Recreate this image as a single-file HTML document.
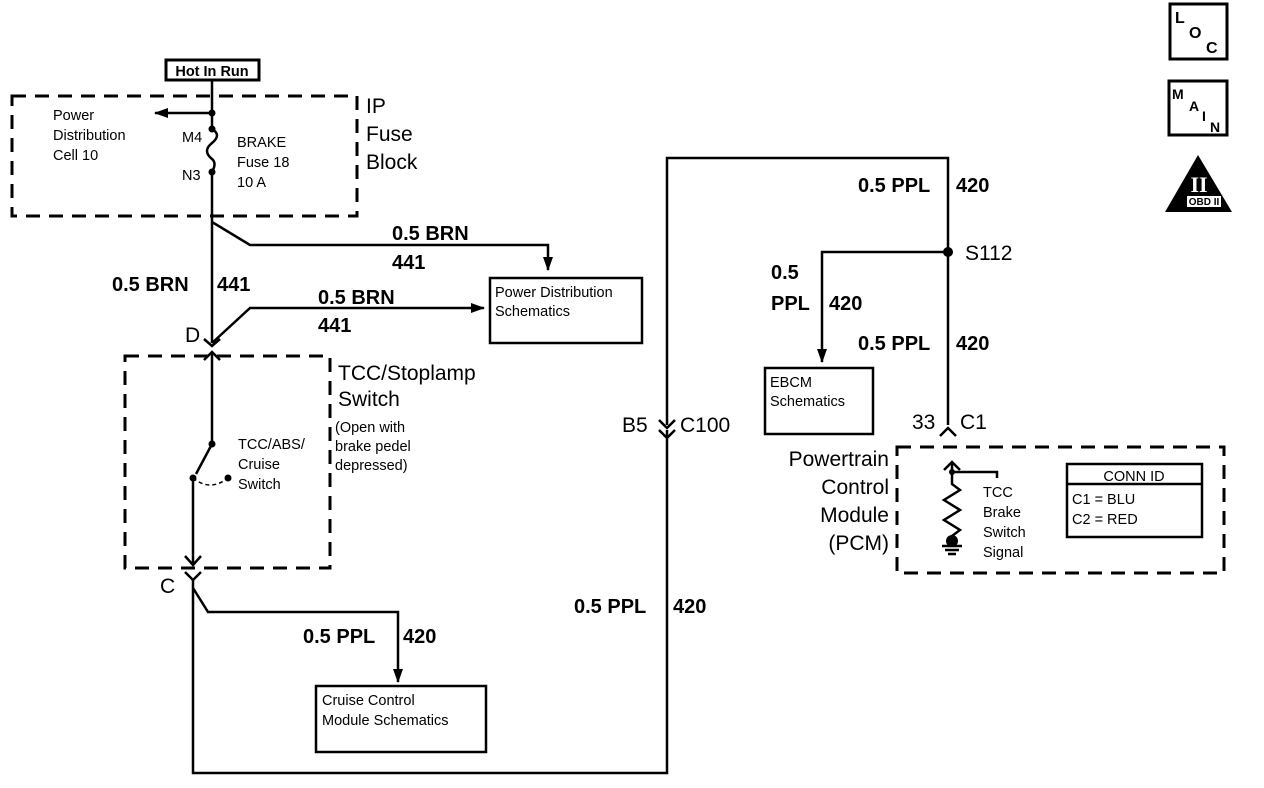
<!DOCTYPE html>
<html><head><style>
html,body{margin:0;padding:0;background:#fff;}
svg{display:block;font-family:"Liberation Sans",Arial,sans-serif;}
.b{font-size:20px;font-weight:bold;}
.m{font-size:21px;}
.s{font-size:14.5px;}
</style></head><body>
<svg width="1264" height="788" viewBox="0 0 1264 788" xmlns="http://www.w3.org/2000/svg">
<defs>
<marker id="ah" markerWidth="14" markerHeight="12" refX="13" refY="6" orient="auto" markerUnits="userSpaceOnUse"><path d="M0,1 L14,6 L0,11 Z" fill="#000"/></marker>
</defs>
<g fill="none" stroke="#000" stroke-width="2.5">
<rect x="12" y="96" width="345" height="120" stroke-dasharray="14,9" stroke-width="3"/>
<rect x="125" y="356" width="205" height="212" stroke-dasharray="14,9" stroke-width="3"/>
<rect x="897" y="447" width="327" height="126" stroke-dasharray="14,9" stroke-width="3"/>
<rect x="166" y="60" width="93" height="20" stroke-width="3"/>
<path d="M212,80 V129"/>
<path d="M212,129 q10,6 0,14 q-10,8 0,16 q5,4 0,13"/>
<path d="M212,172 V343"/>
<path d="M212,113 H155" marker-end="url(#ah)"/>
<path d="M212,222 L250,245 H548 V270" marker-end="url(#ah)"/>
<path d="M212,343 L250,308 H484" marker-end="url(#ah)"/>
<path d="M204,339 L212,346 L220,339"/>
<path d="M204,360 L212,352 L220,360"/>
<path d="M212,352 V444"/>
<path d="M212,444 L196,474"/>
<path d="M193,478 Q210,492 228,478" stroke-dasharray="4,3" stroke-width="1.5"/>
<path d="M193,478 V565"/>
<path d="M185,556 L193,565 L201,556"/>
<path d="M185,572 L193,580 L201,572"/>
<path d="M193,580 V773 H667 V430"/>
<path d="M193,588 L208,612 H398 V682" marker-end="url(#ah)"/>
<path d="M659,420 L667,428 L675,420"/>
<path d="M659,430 L667,438 L675,430"/>
<path d="M667,425 V158 H948 V425"/>
<path d="M948,252 H822 V362" marker-end="url(#ah)"/>
<path d="M940,436 L948,428 L956,436"/>
<path d="M952,478 V462"/>
<path d="M944,470 L952,462 L960,470"/>
<path d="M952,472 H997 V478"/>
<path d="M952,478 V484 l8,6 l-16,10 l16,10 l-16,10 l16,10 l-8,6 V540"/>
<path d="M942,546 H962 M945,550 H959 M948,554 H956"/>
<rect x="490" y="278" width="152" height="65"/>
<rect x="765" y="368" width="108" height="66"/>
<rect x="316" y="686" width="170" height="66"/>
<rect x="1067" y="464" width="135" height="73"/>
<path d="M1067,484 H1202"/>
<rect x="1170" y="4" width="57" height="55" stroke-width="3"/>
<rect x="1169" y="81" width="58" height="54" stroke-width="3"/>
</g>
<g fill="#000">
<circle cx="212" cy="113" r="3.5"/><circle cx="212" cy="129" r="3.5"/><circle cx="212" cy="172" r="3.5"/>
<circle cx="212" cy="444" r="3.5"/><circle cx="193" cy="478" r="3.5"/><circle cx="228" cy="478" r="3.5"/>
<circle cx="948" cy="252" r="5"/><circle cx="952" cy="472" r="3"/><circle cx="952" cy="541" r="6"/>
<path d="M1198,155 L1232,212 L1165,212 Z"/>
</g>
<rect x="1187" y="196" width="34" height="11" fill="#fff"/>
<text x="1204" y="205" font-size="10" font-weight="bold" text-anchor="middle">OBD II</text>
<text x="1199" y="192" font-size="22" font-weight="bold" fill="#fff" text-anchor="middle" font-family="Liberation Serif">II</text>
<text x="1175" y="23" font-size="16" font-weight="bold">L</text>
<text x="1189" y="38" font-size="16" font-weight="bold">O</text>
<text x="1206" y="53" font-size="16" font-weight="bold">C</text>
<text x="1172" y="99" font-size="14" font-weight="bold">M</text>
<text x="1189" y="111" font-size="14" font-weight="bold">A</text>
<text x="1202" y="121" font-size="14" font-weight="bold">I</text>
<text x="1210" y="132" font-size="14" font-weight="bold">N</text>

<text x="212" y="76" class="s" text-anchor="middle" font-weight="bold">Hot In Run</text>
<text x="53" y="120" class="s">Power</text>
<text x="53" y="140" class="s">Distribution</text>
<text x="53" y="160" class="s">Cell 10</text>
<text x="182" y="142" class="s">M4</text>
<text x="182" y="180" class="s">N3</text>
<text x="237" y="147" class="s">BRAKE</text>
<text x="237" y="167" class="s">Fuse 18</text>
<text x="237" y="187" class="s">10 A</text>
<text x="366" y="113" class="m">IP</text>
<text x="366" y="141" class="m">Fuse</text>
<text x="366" y="169" class="m">Block</text>
<text x="392" y="240" class="b">0.5 BRN</text>
<text x="392" y="269" class="b">441</text>
<text x="112" y="291" class="b">0.5 BRN</text>
<text x="217" y="291" class="b">441</text>
<text x="318" y="304" class="b">0.5 BRN</text>
<text x="318" y="332" class="b">441</text>
<text x="495" y="297" class="s">Power Distribution</text>
<text x="495" y="316" class="s">Schematics</text>
<text x="185" y="342" class="m">D</text>
<text x="338" y="380" class="m">TCC/Stoplamp</text>
<text x="338" y="406" class="m">Switch</text>
<text x="335" y="432" class="s">(Open with</text>
<text x="335" y="451" class="s">brake pedel</text>
<text x="335" y="470" class="s">depressed)</text>
<text x="238" y="449" class="s">TCC/ABS/</text>
<text x="238" y="469" class="s">Cruise</text>
<text x="238" y="489" class="s">Switch</text>
<text x="160" y="593" class="m">C</text>
<text x="303" y="643" class="b">0.5 PPL</text>
<text x="403" y="643" class="b">420</text>
<text x="322" y="705" class="s">Cruise Control</text>
<text x="322" y="725" class="s">Module Schematics</text>
<text x="574" y="613" class="b">0.5 PPL</text>
<text x="673" y="613" class="b">420</text>
<text x="622" y="432" class="m">B5</text>
<text x="680" y="432" class="m">C100</text>
<text x="858" y="192" class="b">0.5 PPL</text>
<text x="956" y="192" class="b">420</text>
<text x="965" y="260" class="m">S112</text>
<text x="771" y="279" class="b">0.5</text>
<text x="771" y="310" class="b">PPL</text>
<text x="829" y="310" class="b">420</text>
<text x="858" y="350" class="b">0.5 PPL</text>
<text x="956" y="350" class="b">420</text>
<text x="770" y="387" class="s">EBCM</text>
<text x="770" y="406" class="s">Schematics</text>
<text x="912" y="429" class="m">33</text>
<text x="960" y="429" class="m">C1</text>
<text x="889" y="466" class="m" text-anchor="end">Powertrain</text>
<text x="889" y="494" class="m" text-anchor="end">Control</text>
<text x="889" y="522" class="m" text-anchor="end">Module</text>
<text x="889" y="550" class="m" text-anchor="end">(PCM)</text>
<text x="983" y="497" class="s">TCC</text>
<text x="983" y="517" class="s">Brake</text>
<text x="983" y="537" class="s">Switch</text>
<text x="983" y="557" class="s">Signal</text>
<text x="1134" y="481" class="s" text-anchor="middle">CONN ID</text>
<text x="1072" y="504" class="s">C1 = BLU</text>
<text x="1072" y="524" class="s">C2 = RED</text>
</svg>
</body></html>
